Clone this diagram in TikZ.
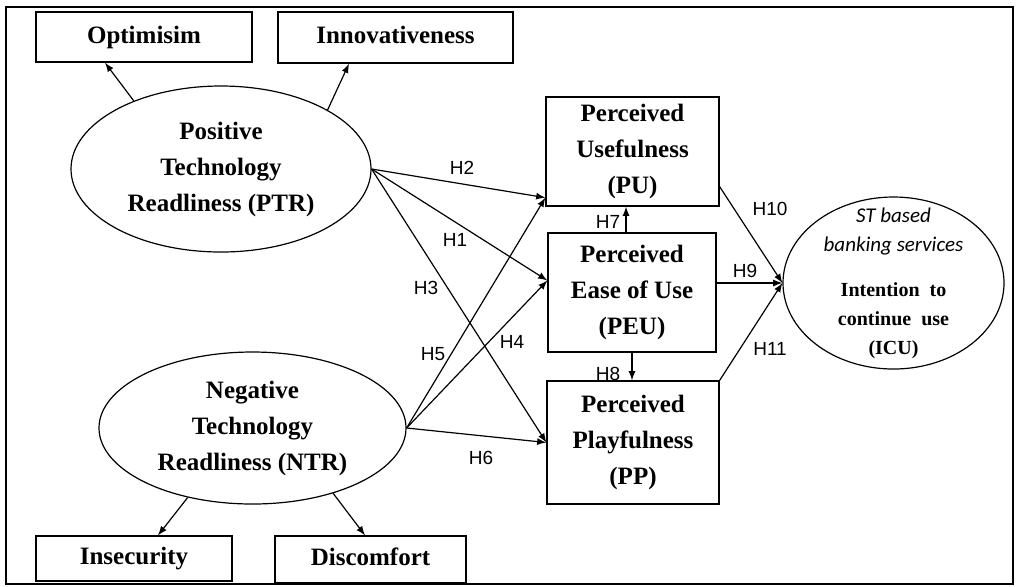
\documentclass[tikz,border=0pt]{standalone}
\usepackage{fontspec}
\setmainfont{Liberation Serif}
\newfontfamily\hfont{Liberation Sans}
\newfontfamily\stfont{Carlito}
\usetikzlibrary{positioning}
\usetikzlibrary{arrows,shapes.geometric}
\usetikzlibrary{calc}

\begin{document}
\begin{tikzpicture}
  [x=0.5pt,y=-0.5pt,
   box/.style={draw=black,line width=0.65pt,inner sep=0pt,align=center,font=\bfseries\fontsize{12.5}{18}\selectfont},
   tag/.style={box,text height=8.5pt,text depth=2.5pt},
   oval/.style={ellipse,draw=black,line width=0.6pt,inner sep=0pt,align=center,font=\bfseries\fontsize{12.5}{18}\selectfont},
   hyp/.style={inner sep=0pt,font=\hfont\fontsize{9.5}{11}\selectfont},
   link/.style={->,>=latex,line width=0.6pt}]
  \useasboundingbox (0,0) rectangle (1020,586);
  \draw [line width=1pt] (6,7) rectangle (1013,584);

  \node[tag,minimum width=108pt,minimum height=25pt] (opt) at (144,37) {Optimisim};
  \node[tag,minimum width=117.5pt,minimum height=25.5pt] (inn) at (395.5,37.5) {Innovativeness};
  \node[oval,minimum width=150pt,minimum height=83pt] (ptr) at (221,169) {Positive\\Technology\\Readliness (PTR)};

  \node[oval,minimum width=153.5pt,minimum height=76pt] (ntr) at (252.5,428) {Negative\\Technology\\Readliness (NTR)};
  \node[tag,minimum width=98pt,minimum height=22.5pt] (ins) at (134,558.5) {Insecurity};
  \node[tag,minimum width=95.5pt,minimum height=23.5pt] (dis) at (370.5,559.5) {Discomfort};

  \node[box,minimum width=86.5pt,minimum height=54.5pt] (pu) at (632.5,151.5) {Perceived\\Usefulness\\(PU)};
  \node[box,minimum width=84pt,minimum height=59.5pt] (peu) at (632,292.5) {Perceived\\Ease of Use\\(PEU)};
  \node[box,minimum width=86pt,minimum height=61.5pt] (pp) at (633,442.5) {Perceived\\Playfulness\\(PP)};

  \node[oval,minimum width=110.5pt,minimum height=86pt] (icu) at (893.5,283) {};
  \node[align=center,inner sep=0pt,font=\bfseries\fontsize{10}{14.5}\selectfont] (icutext) at (icu.center)
    {{\stfont\mdseries\itshape\fontsize{10.5}{14.5}\selectfont ST based}\\{\stfont\mdseries\itshape\fontsize{10.5}{14.5}\selectfont banking services}\\[8pt]Intention\ \ to\\continue\ \ use\\(ICU)};

  % indicators
  \draw [link] (ptr.142) -- ($(opt.south)+(-39,0)$);
  \draw [link] (ptr.29) -- ($(inn.south)+(-46.5,0)$);
  \draw [link] (ntr.227) -- ($(ins.north)+(24,0)$);
  \draw [link] (ntr.321) -- ($(dis.north)+(-5.5,0)$);

  % hypotheses
  \draw [link] (ptr.east) -- ($(pu.south west)+(0,-9)$);
  \draw [link] (ptr.east) -- ($(peu.west)+(0,-12)$);
  \draw [link] (ptr.east) -- (pp.west);
  \draw [link] (ntr.east) -- ($(pu.south west)+(0,-9)$);
  \draw [link] (ntr.east) -- ($(peu.west)+(0,-12)$);
  \draw [link] (ntr.east) -- (pp.west);
  \draw [link] ($(peu.north)+(-6,0)$) -- ($(pu.south)+(-6.5,0)$);
  \draw [link] (peu.south) -- (peu.south |- pp.north);
  \draw [link] ($(pu.south east)+(0,-20)$) -- (icu.west);
  \draw [link] (peu.east |- icu.west) -- (icu.west);
  \draw [link] (pp.north east) -- (icu.west);

  \node[hyp] (h1) at (455,240) {H1};
  \node[hyp] (h2) at (462,168) {H2};
  \node[hyp] (h3) at (426,288) {H3};
  \node[hyp] (h4) at (512,342) {H4};
  \node[hyp] (h5) at (433,354) {H5};
  \node[hyp] (h6) at (481,458) {H6};
  \node[hyp] (h7) at (608,222) {H7};
  \node[hyp] (h8) at (608,374) {H8};
  \node[hyp] (h9) at (745,271) {H9};
  \node[hyp] (h10) at (770,209) {H10};
  \node[hyp] (h11) at (770,349) {H11};
\end{tikzpicture}
\end{document}
